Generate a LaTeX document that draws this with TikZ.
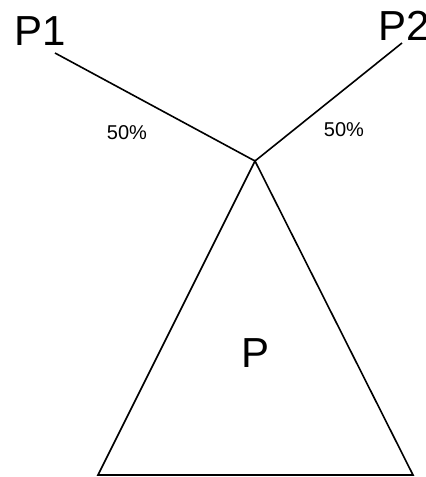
\documentclass[tikz,border=0pt]{standalone}
\usepackage{fontspec}
\setmainfont{Liberation Sans}
\begin{document}
\begin{tikzpicture}[x=1pt,y=-1pt,
  ln/.style={line width=1.6pt,line join=miter},
  big/.style={inner sep=0pt,anchor=base,font=\fontsize{42}{42}\selectfont},
  pct/.style={inner sep=0pt,anchor=base,font=\fontsize{20}{20}\selectfont}]
\useasboundingbox (0,0) rectangle (426,477);
\coordinate (a) at (55,53);
\coordinate (apex) at (255,161);
\coordinate (b) at (402,43);
\coordinate (bl) at (98,475);
\coordinate (br) at (413,475);
\node[big] (p1) at (40,45) {P1};
\node[big,anchor=base west] (p2) at (378,40) {P2};
\node[pct] (l1) at (127,139) {50\%};
\node[pct] (l2) at (344,136) {50\%};
\node[big] (p) at (256,367) {P};
\draw[ln] (a) -- (apex) -- (b);
\draw[ln] (apex) -- (bl) -- (br) -- cycle;
\end{tikzpicture}
\end{document}
